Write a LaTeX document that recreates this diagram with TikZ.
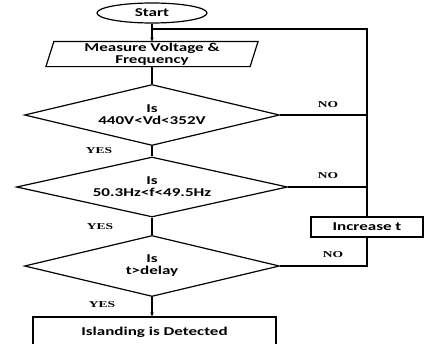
\documentclass[tikz,border=0pt]{standalone}
\usepackage{fontspec}
\usetikzlibrary{shapes.geometric,arrows.meta,calc}
\newfontfamily\labfont[FakeStretch=1.42]{Carlito}
\newfontfamily\ynfont[FakeStretch=1.5]{Liberation Serif}
\begin{document}
\begin{tikzpicture}[x=1pt,y=-1pt,line width=1.2pt,
  lab/.style={font=\labfont\bfseries\fontsize{12}{12}\selectfont,align=center,inner sep=0pt},
  yn/.style={font=\ynfont\bfseries\fontsize{9}{9}\selectfont,inner sep=0pt},
  decision/.style={diamond,draw,lab},
  procbox/.style={rectangle,draw,lab},
  arr/.style={-{Stealth[length=4pt,width=3.5pt]}}]
\useasboundingbox (0,0) rectangle (425,343);
\clip (0,0) rectangle (425,343);
\node[ellipse,draw,lab,minimum width=110pt,minimum height=20pt] (start) at (152,13) {Start};
\node[rectangle,lab,minimum width=203pt,minimum height=24pt] (meas) at (152,54)
  {Measure Voltage \&\\[0pt]Frequency};
\draw ($(meas.north west)+(4,0)$) -- ($(meas.north east)+(4,0)$) --
      ($(meas.south east)+(-4,0)$) -- ($(meas.south west)+(-4,0)$) -- cycle;
\node[decision,aspect=4.18,minimum width=255pt,minimum height=61pt] (d1) at (152,115) {Is\\[0pt]440V<Vd<352V};
\node[decision,aspect=4.52,minimum width=271pt,minimum height=60pt] (d2) at (152,187) {Is\\[0pt]50.3Hz<f<49.5Hz};
\node[decision,aspect=4.18,minimum width=255pt,minimum height=61pt] (d3) at (152,266) {Is\\[0pt]t>delay};
\node[procbox,minimum width=112pt,minimum height=20pt] (incr) at (367,227) {Increase t};
\node[procbox,minimum width=243pt,minimum height=30pt] (fin) at (154.5,332) {Islanding is Detected};
\coordinate (J) at (152,29);
\draw[arr] (start) -- (start |- meas.north);
\draw (start |- meas.south) -- (d1.north);
\draw (d1.south) -- (d2.north);
\draw (d2.south) -- (d3.north);
\draw[arr] (d3.south) -- (d3.south |- fin.north);
\draw (d1.east) -- (d1.east -| incr.north);
\draw (d2.east) -- (d2.east -| incr.north);
\draw (incr.north) -- (incr.north |- J) -- (J);
\draw (incr.south) |- (d3.east);
\node[yn] (y1) at (99,151) {YES};
\node[yn] (y2) at (100,227) {YES};
\node[yn] (y3) at (102,305) {YES};
\node[yn] (n1) at (328,105) {NO};
\node[yn] (n2) at (328,175.5) {NO};
\node[yn] (n3) at (333,255) {NO};
\end{tikzpicture}
\end{document}
